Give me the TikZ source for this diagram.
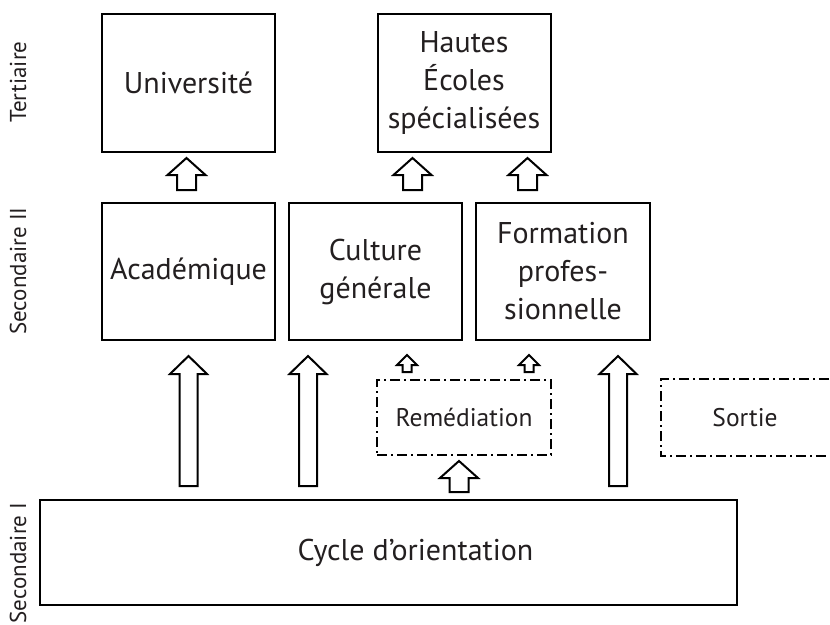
\documentclass[tikz,border=0pt]{standalone}
\usepackage{fontspec}
\setmainfont{PT Sans}
\usepackage{tikz}
\usetikzlibrary{calc}

\definecolor{inkgray}{HTML}{231F20}

\tikzset{
    blockarrow/.style n args={3}{to path={
        let \p1=(\tikztostart), \p2=(\tikztotarget) in
        (\x1-#1pt,\y1) -- (\x1-#1pt,\y2-#3pt) -- (\x1-#2pt,\y2-#3pt) -- (\x1,\y2)
        -- (\x1+#2pt,\y2-#3pt) -- (\x1+#1pt,\y2-#3pt) -- (\x1+#1pt,\y1) -- cycle}},
    bigarrow/.style={blockarrow={9}{18.5}{18}},
    midarrow/.style={blockarrow={9.5}{19}{17}},
    smallarrow/.style={blockarrow={4.5}{10}{10}}
}

\begin{document}
\begin{tikzpicture}[x=1pt,y=-1pt,line width=2pt,line join=miter,
    font=\fontsize{30}{38}\selectfont]
    \tikzstyle{every node}=[text=inkgray]
    \tikzstyle{level}=[draw, align=center, inner sep=0pt]
    \tikzstyle{optional}=[font=\fontsize{25.5}{30}\selectfont, inner sep=0pt,
        dash pattern=on 10pt off 4pt on 2pt off 4pt]
    \tikzstyle{stage}=[rotate=90, font=\fontsize{23}{28}\selectfont]

    \useasboundingbox (0,0) rectangle (830,624);

    % levels
    \node[stage] (tert) at (18,82) {Tertiaire};
    \node[stage] (secii) at (18,271) {Secondaire II};
    \node[stage] (seci) at (18,563) {Secondaire I};

    % tertiaire
    \node[level, minimum width=173, minimum height=138] (univ) at (188.5,83) {Université};
    \node[level, minimum width=173, minimum height=138] (hautes) at (464,83) {Hautes\\Écoles\\spécialisées};

    % secondaire II
    \node[level, minimum width=173, minimum height=137] (aca) at (188.5,271.5) {Académique};
    \node[level, minimum width=173, minimum height=137] (culture) at (375.5,271.5) {Culture\\générale};
    \node[level, minimum width=174, minimum height=137] (formation) at (563,271.5) {Formation\\profes-\\sionnelle};

    \node[optional, draw, minimum width=174, minimum height=75] (remed) at (464,417.5) {Remédiation};
    \node[optional, minimum width=166, minimum height=75] (sortie) at (745,417.5) {Sortie};
    \draw[optional] ($(sortie.north east)+(40,0)$) -- (sortie.north west)
        -- (sortie.south west) -- ($(sortie.south east)+(40,0)$);

    % secondaire I
    \node[level, minimum width=697, minimum height=105] (cycle) at (388.5,552.5) {};
    \node (cycletext) at ($(cycle)+(27,0)$) {Cycle d’orientation};

    % passages
    \draw[midarrow] ($(aca.north)+(-2,-12)$) to ($(univ.south)+(-2,5)$);
    \draw[midarrow] ($(hautes.south west |- culture.north)+(36,-12)$) to ($(hautes.south west)+(36,5)$);
    \draw[midarrow] ($(hautes.south east |- formation.north)+(-24,-12)$) to ($(hautes.south east)+(-24,5)$);

    \draw[bigarrow] ($(cycle.north -| aca.south)+(0,-13)$) to ($(aca.south)+(0,15)$);
    \draw[bigarrow] ($(cycle.north -| culture.south west)+(20,-13)$) to ($(culture.south west)+(20,15)$);
    \draw[bigarrow] ($(cycle.north -| formation.south east)+(-33,-13)$) to ($(formation.south east)+(-33,15)$);

    \draw[smallarrow] ($(remed.north west)+(31,-7)$) to ($(remed.north west |- culture.south)+(31,14)$);
    \draw[smallarrow] ($(remed.north east)+(-23,-7)$) to ($(remed.north east |- formation.south)+(-23,14)$);
    \draw[midarrow] ($(cycle.north -| remed.south)+(-5,-7)$) to ($(remed.south)+(-5,5)$);
\end{tikzpicture}
\end{document}
